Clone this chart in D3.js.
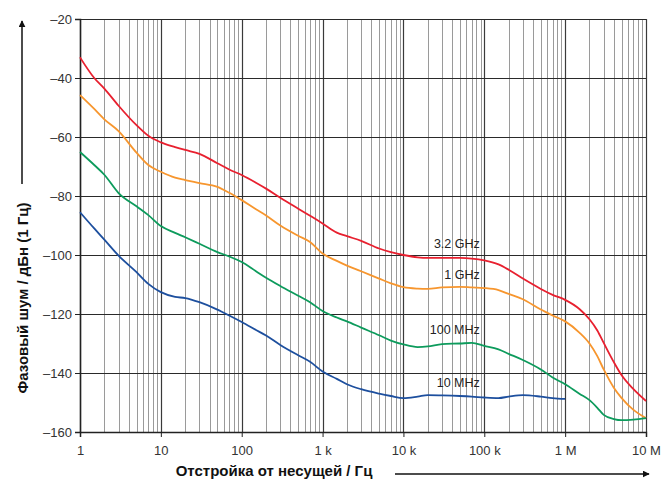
<!DOCTYPE html>
<meta charset="utf-8">
<script src="https://d3js.org/d3.v7.min.js"></script>
<style>
  body { margin: 0; background: #fff; }
  text { font-family: Arial, "Liberation Sans", sans-serif; }
</style>
<body>
<div id="chart"></div>
<script>

// frequency grid (Hz) shared by all curves
var freqs = [1, 1.5, 2, 3, 5, 7, 10, 15, 20, 30, 50, 70, 100, 150, 200, 300, 500, 700,
  1e3, 1.5e3, 2e3, 3e3, 5e3, 7e3, 1e4, 1.5e4, 2e4, 3e4, 5e4, 7e4, 1e5, 1.5e5, 2e5, 3e5,
  5e5, 7e5, 1e6, 1.5e6, 2e6, 2.5e6, 3e6, 4e6, 5e6, 7e6, 1e7];

// phase noise, dBc/Hz
var noise32G = [-33, -40, -43.6, -49.4, -56, -59.6, -61.8, -63.4, -64.4, -65.7, -68.9, -71,
  -72.9, -75.5, -77.5, -80.6, -84.3, -86.7, -89.3, -92.4, -93.6, -95.2, -97.8, -99, -100,
  -100.8, -101, -101, -101, -101.2, -101.8, -103.2, -105, -108, -111.5, -113.5, -115.2,
  -118.3, -121.8, -125.6, -129.8, -136.3, -140.8, -145.5, -149.5];
var noise1G = [-45.8, -50.5, -54, -58, -65.3, -69.5, -71.8, -73.8, -74.6, -75.6, -76.9, -78.9,
  -81.4, -84.5, -86.6, -90, -93.5, -95.6, -99.5, -102, -103.6, -105.5, -108, -109.6, -110.9,
  -111.4, -111.5, -111, -110.8, -111, -111.2, -111.9, -113.2, -115, -118.5, -120.5, -122.5,
  -126.3, -130, -134.3, -138.8, -145, -148.5, -152.5, -155.3];
var noise100M = [-65.1, -69.5, -72.8, -79, -83.5, -86.5, -90.2, -92.5, -94, -96.2, -99, -100.5,
  -102.4, -105.5, -107.7, -110.5, -113.8, -116, -119, -121.2, -122.5, -124.6, -127.2, -129,
  -130.3, -131.2, -131, -130.2, -130, -129.8, -130.8, -132, -133.5, -135.6, -138.8, -141.5,
  -143.8, -147, -149.2, -151.8, -154.2, -155.6, -156, -155.8, -155.3];
var noise10M = [-85.5, -91, -94.8, -100.2, -105.8, -109.8, -112.6, -114.2, -114.6, -116, -118.5,
  -120.5, -122.7, -125.4, -127.3, -130.5, -134, -136.2, -139.5, -142, -143.8, -145.5, -147,
  -147.8, -148.5, -148, -147.5, -147.6, -147.8, -148, -148.3, -148.5, -148, -147.5, -148,
  -148.5, -148.8];

var seriesNames = ["3.2 GHz", "1 GHz", "100 MHz", "10 MHz"];
var seriesColors = ["#e8202f", "#f7962e", "#0d9b5c", "#1d4f9e"];
var labelFreq = 8.8e4;
var labelLevels = [-96.3, -106.8, -125.4, -143.4];

var xTicks = [1, 10, 100, 1e3, 1e4, 1e5, 1e6, 1e7];
var xTickLabels = ["1", "10", "100", "1 k", "10 k", "100 k", "1 M", "10 M"];
var yTicks = [-20, -40, -60, -80, -100, -120, -140, -160];

var W = 671, H = 486;
var margin = {top: 19, right: 25, bottom: 54, left: 80},
    width = W - margin.left - margin.right,
    height = H - margin.top - margin.bottom;

var svg = d3.select("#chart").append("svg")
    .attr("width", W)
    .attr("height", H);

var g = svg.append("g")
    .attr("transform", "translate(" + margin.left + "," + margin.top + ")");

var x = d3.scaleLog().domain([1, 1e7]).range([0, width]);
var y = d3.scaleLinear().domain([-160, -20]).range([height, 0]);

// minor vertical grid
var minor = [];
for (var d = 1; d < 1e7; d *= 10) {
  for (var k = 2; k <= 9; k++) minor.push(d * k);
}
g.append("g").selectAll("line")
  .data(minor)
  .enter().append("line")
    .attr("x1", function(v) { return Math.round(x(v)) + 0.5; })
    .attr("x2", function(v) { return Math.round(x(v)) + 0.5; })
    .attr("y1", 0).attr("y2", height)
    .style("stroke", "#9a9a9a")
    .style("stroke-width", 1);

// major vertical grid
g.append("g").selectAll("line")
  .data(xTicks)
  .enter().append("line")
    .attr("x1", function(v) { return Math.round(x(v)) + 0.5; })
    .attr("x2", function(v) { return Math.round(x(v)) + 0.5; })
    .attr("y1", 0).attr("y2", height)
    .style("stroke", "#3a3a3a")
    .style("stroke-width", 1.2);

// horizontal grid
g.append("g").selectAll("line")
  .data(yTicks)
  .enter().append("line")
    .attr("x1", 0).attr("x2", width)
    .attr("y1", function(v) { return Math.round(y(v)) + 0.5; })
    .attr("y2", function(v) { return Math.round(y(v)) + 0.5; })
    .style("stroke", "#2a2a2a")
    .style("stroke-width", 1.2);

// axes
var xAxis = d3.axisBottom(x)
    .tickValues(xTicks)
    .tickSize(5)
    .tickPadding(9)
    .tickFormat(function(v, i) { return xTickLabels[i]; });
var yAxis = d3.axisLeft(y)
    .tickValues(yTicks)
    .tickSize(5)
    .tickPadding(3)
    .tickFormat(function(v) { return "\u2013" + Math.abs(v); });

var gx = g.append("g")
    .attr("transform", "translate(0," + height + ")")
    .call(xAxis);
var gy = g.append("g").call(yAxis);

[gx, gy].forEach(function(a) {
  a.select(".domain").style("stroke", "#222").style("stroke-width", 1.5);
  a.selectAll(".tick line").style("stroke", "#222");
  a.selectAll("text")
    .style("font-size", "13px")
    .style("fill", "#333")
    .style("font-family", "Arial, 'Liberation Sans', sans-serif");
});

// curves
var allSeries = [noise32G, noise1G, noise100M, noise10M];
var line = d3.line()
    .x(function(p) { return x(p[0]); })
    .y(function(p) { return y(p[1]); })
    .curve(d3.curveMonotoneX);

allSeries.forEach(function(vals, i) {
  var pts = vals.map(function(v, j) { return [freqs[j], v]; });
  g.append("path")
    .datum(pts)
    .attr("d", line)
    .style("fill", "none")
    .style("stroke", seriesColors[i])
    .style("stroke-width", 1.8)
    .style("stroke-linejoin", "round");
});

// series labels
g.append("g").selectAll("text")
  .data(seriesNames)
  .enter().append("text")
    .attr("x", x(labelFreq))
    .attr("y", function(d, i) { return y(labelLevels[i]); })
    .attr("dy", "0.35em")
    .attr("text-anchor", "end")
    .style("font-size", "12.5px")
    .style("fill", "#222")
    .text(function(d) { return d; });

// arrow marker
svg.append("defs").append("marker")
    .attr("id", "arr")
    .attr("viewBox", "0 0 10 10")
    .attr("refX", 9).attr("refY", 5)
    .attr("markerWidth", 7).attr("markerHeight", 7)
    .attr("markerUnits", "userSpaceOnUse")
    .attr("orient", "auto")
  .append("path")
    .attr("d", "M0,0 L10,5 L0,10 Z")
    .style("fill", "#111");

// y title + arrow
svg.append("text")
    .attr("transform", "translate(28,298) rotate(-90)")
    .attr("text-anchor", "middle")
    .style("font-size", "15px")
    .style("font-weight", "bold")
    .style("fill", "#111")
    .text("Фазовый шум / дБн (1 Гц)");
svg.append("line")
    .attr("x1", 22).attr("x2", 22)
    .attr("y1", 184).attr("y2", 21)
    .style("stroke", "#111").style("stroke-width", 1.5)
    .attr("marker-end", "url(#arr)");

// x title + arrow
svg.append("text")
    .attr("x", 274).attr("y", 476)
    .attr("text-anchor", "middle")
    .style("font-size", "15px")
    .style("font-weight", "bold")
    .style("fill", "#111")
    .text("Отстройка от несущей / Гц");
svg.append("line")
    .attr("x1", 395).attr("x2", 649)
    .attr("y1", 474).attr("y2", 474)
    .style("stroke", "#111").style("stroke-width", 1.5)
    .attr("marker-end", "url(#arr)");

</script>
</body>
